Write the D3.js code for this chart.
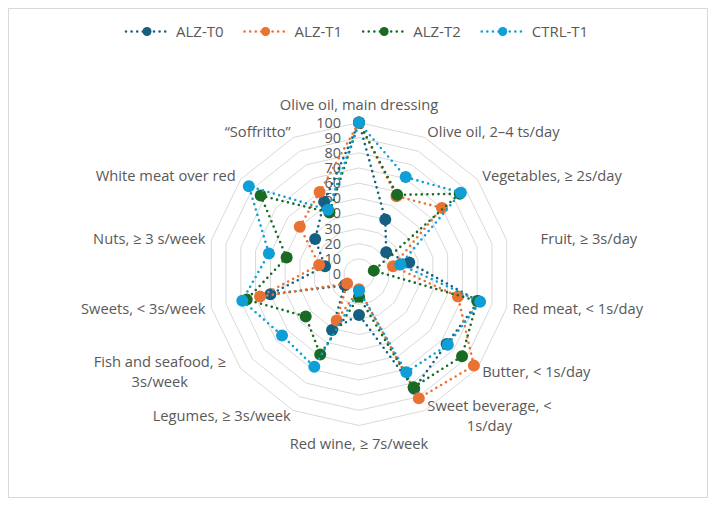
<!DOCTYPE html>
<html>
<head>
<meta charset="utf-8">
<script src="https://cdn.jsdelivr.net/npm/d3@7/dist/d3.min.js"></script>
<style>
  html, body { margin: 0; padding: 0; background: #fff; }
  svg text { font-family: "Open Sans", "Noto Sans", sans-serif; fill: #595959; }
</style>
</head>
<body>
<svg id="chart" width="716" height="507"></svg>
<script>
// categories, clockwise from the top
var categories = [
  "Olive oil, main dressing",
  "Olive oil, 2\u20134 ts/day",
  "Vegetables, \u2265 2s/day",
  "Fruit, \u2265 3s/day",
  "Red meat, < 1s/day",
  "Butter, < 1s/day",
  "Sweet beverage, <\n1s/day",
  "Red wine, \u2265 7s/week",
  "Legumes, \u2265 3s/week",
  "Fish and seafood, \u2265\n3s/week",
  "Sweets, < 3s/week",
  "Nuts, \u2265 3 s/week",
  "White meat over red",
  "\u201cSoffritto\u201d"
];

var seriesNames = ["ALZ-T0", "ALZ-T1", "ALZ-T2", "CTRL-T1"];
var alzT0  = [100, 40, 23, 34, 81, 74, 84, 27, 41, 12, 60, 23, 37, 53];
var alzT1  = [100, 57, 70, 23, 67, 97, 91, 10, 34, 10, 67, 27, 50, 60];
var alzT2  = [100, 58, 85, 10, 80, 87, 83, 15, 59, 45, 76, 49, 83, 45];
var ctrlT1 = [100, 71, 86, 28, 82, 75, 72, 11, 68, 65, 79, 61, 93, 47];
var tickValues = [0, 10, 20, 30, 40, 50, 60, 70, 80, 90, 100];

var colors = ["#156082", "#E97132", "#196B24", "#0F9ED5"];
var allSeries = [alzT0, alzT1, alzT2, ctrlT1];

// layout
var cx = 359, cy = 274, R = 151.5;
var labelGap = 6;
// excel pushes a couple of labels a bit off the generic spot
var labelNudge = { 3: 28, 9: -10 };

var svg = d3.select("#chart");

svg.append("rect")
  .attr("x", 8.5).attr("y", 8.5)
  .attr("width", 699).attr("height", 489)
  .attr("fill", "#fff")
  .attr("stroke", "#D9D9D9")
  .attr("stroke-width", 1);

var n = categories.length;
var r = d3.scaleLinear().domain([0, 100]).range([0, R]);
var angle = d3.scaleLinear().domain([0, n]).range([0, 2 * Math.PI]);

function pt(i, v) {
  var a = angle(i);
  return [cx + r(v) * Math.sin(a), cy - r(v) * Math.cos(a)];
}

// grid rings
var g = svg.append("g");
tickValues.filter(function(t) { return t > 0; }).forEach(function(t) {
  var pts = d3.range(n).map(function(i) { return pt(i, t); });
  g.append("path")
    .attr("d", d3.line()(pts) + "Z")
    .attr("fill", "none")
    .attr("stroke", "#D9D9D9")
    .attr("stroke-width", 1);
});

// value labels along the top spoke
tickValues.forEach(function(t) {
  g.append("text")
    .attr("x", cx - 18)
    .attr("y", cy - r(t))
    .attr("dy", "0.35em")
    .attr("text-anchor", "end")
    .style("font-size", "14.5px")
    .text(t);
});

// category labels
categories.forEach(function(c, i) {
  var a = angle(i);
  var s = Math.sin(a), co = Math.cos(a);
  var p = pt(i, 100 + labelGap * 100 / R);
  var x = p[0] + (labelNudge[i] || 0), y = p[1];
  var lines = c.split("\n");
  var t = g.append("text").style("font-size", "14.7px");
  if (Math.abs(s) < 0.1) {
    t.attr("text-anchor", "middle").attr("x", x).attr("y", y - co * 12).attr("dy", "0.35em").text(c);
    return;
  }
  if (lines.length == 1) {
    t.attr("text-anchor", s > 0 ? "start" : "end")
      .attr("x", x).attr("y", y).attr("dy", "0.35em").text(c);
    return;
  }
  // wrapped label: box sits beside the spoke, lines centred inside it
  var spans = lines.map(function(l) { return t.append("tspan").text(l); });
  var w = d3.max(spans, function(sp) { return sp.node().getComputedTextLength(); });
  var mid = s > 0 ? x + w / 2 : x - w / 2;
  var lh = 20;
  t.attr("text-anchor", "middle");
  spans.forEach(function(sp, k) {
    sp.attr("x", mid).attr("y", y + (k - (lines.length - 1) / 2) * lh).attr("dy", "0.35em");
  });
});

// series
var line = d3.line().curve(d3.curveLinearClosed);
allSeries.forEach(function(vals, si) {
  var pts = vals.map(function(v, i) { return pt(i, v); });
  svg.append("path")
    .attr("d", line(pts))
    .attr("fill", "none")
    .attr("stroke", colors[si])
    .attr("stroke-width", 2.6)
    .attr("stroke-linecap", "round")
    .attr("stroke-dasharray", "0 5.6");
  svg.selectAll(null).data(pts).enter().append("circle")
    .attr("cx", function(d) { return d[0]; })
    .attr("cy", function(d) { return d[1]; })
    .attr("r", 6)
    .attr("fill", colors[si]);
});

// legend
var legend = svg.append("g");
var lx = 125, ly = 31.5;
seriesNames.forEach(function(name, si) {
  var it = legend.append("g").attr("transform", "translate(" + lx + "," + ly + ")");
  it.append("line")
    .attr("x1", 1).attr("x2", 42).attr("y1", 0).attr("y2", 0)
    .attr("stroke", colors[si])
    .attr("stroke-width", 2.6)
    .attr("stroke-linecap", "round")
    .attr("stroke-dasharray", "0 5.6");
  it.append("circle").attr("cx", 22).attr("cy", 0).attr("r", 4.5).attr("fill", colors[si]);
  var tx = it.append("text")
    .attr("x", 51).attr("y", 0).attr("dy", "0.35em")
    .style("font-size", "15px")
    .text(name);
  lx += 51 + tx.node().getComputedTextLength() + 20;
});
</script>
</body>
</html>
